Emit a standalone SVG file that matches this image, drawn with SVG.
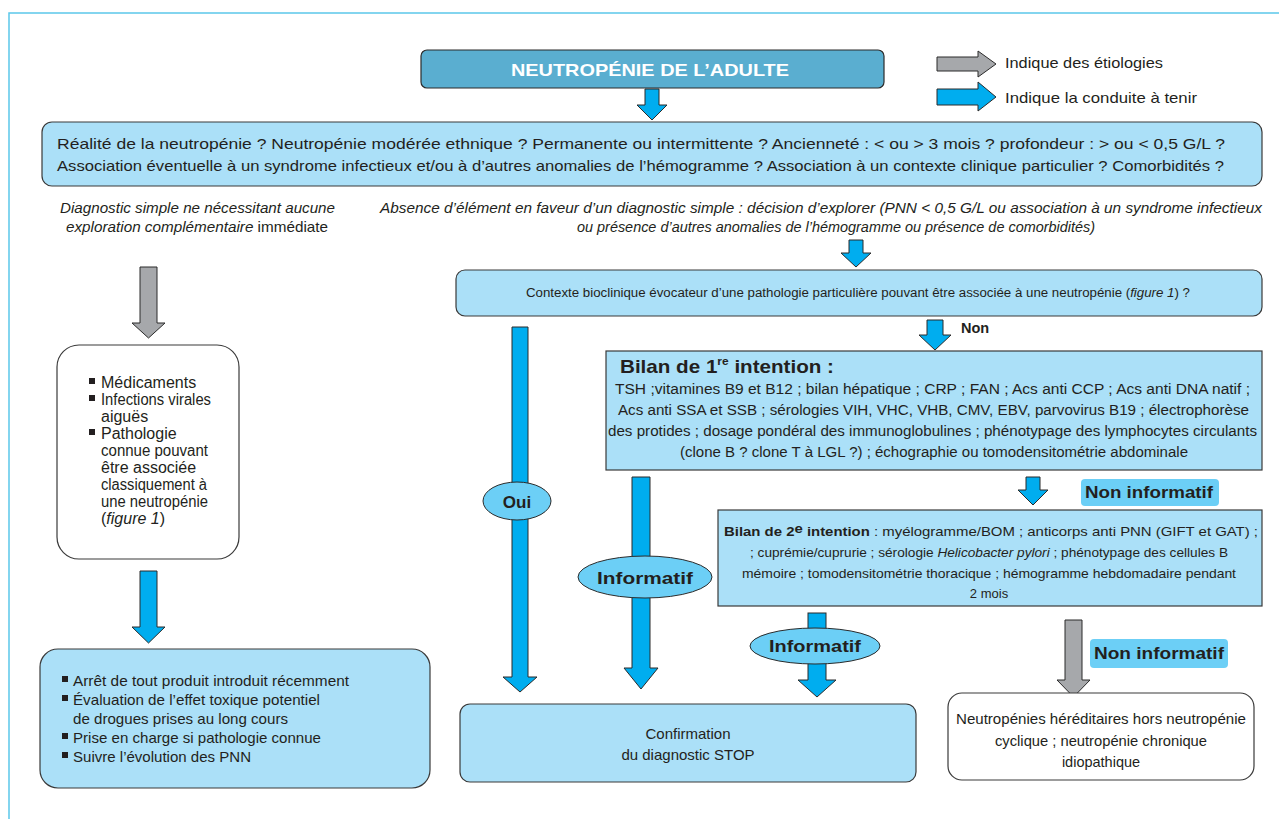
<svg xmlns="http://www.w3.org/2000/svg" width="1279" height="819" viewBox="0 0 1279 819">
<style>
.t{font-family:"Liberation Sans",Arial,sans-serif;fill:#231f20}
.b{font-weight:bold}
.i{font-style:italic}
.box{fill:#abe0f8;stroke:#3a3a3a;stroke-width:1.2}
.wbox{fill:#ffffff;stroke:#3a3a3a;stroke-width:1.2}
.ab{fill:#00adef;stroke:#2b2b2b;stroke-width:1}
.ag{fill:#a6a8ab;stroke:#2b2b2b;stroke-width:1}
.ell{fill:#6ccff6;stroke:#2b2b2b;stroke-width:1}
.lab{fill:#6ccff6}
</style>
<rect width="1279" height="819" fill="#ffffff"/>
<path d="M9,819 V13 H1279" fill="none" stroke="#5bc8ea" stroke-width="1.5"/>

<g id="connectors">
  <polygon class="ab" points="645,89 659,89 659,105 667,105 652,120 637,105 645,105"/>
  <polygon class="ab" points="849,240 863,240 863,253 871,253 856,267 841,253 849,253"/>
  <polygon class="ab" points="927,320 943,320 943,335 951,335 935,350 919,335 927,335"/>
  <polygon class="ab" points="1026,477 1040,477 1040,490 1048,490 1033,505 1018,490 1026,490"/>
  <polygon class="ag" points="140,267 157,267 157,323 165,323 148.5,338 132,323 140,323"/>
  <polygon class="ab" points="140,571 157,571 157,627 165,627 148.5,643 132,627 140,627"/>
  <polygon class="ab" points="512,327 528,327 528,677 537,677 520,692 503,677 512,677"/>
  <polygon class="ab" points="632,477 650,477 650,668 658,668 641,689 624,668 632,668"/>
  <rect class="ab" x="808" y="613" width="18" height="17"/>
  <polygon class="ab" points="808,662 826,662 826,680 836,680 817,697 798,680 808,680"/>
  <polygon class="ag" points="1065,620 1082,620 1082,680 1090,680 1073.5,697 1057,680 1065,680"/>
</g>

<g id="legend">
  <polygon class="ag" points="937,57 978,57 978,51 996,64 978,77 978,71 937,71"/>
  <text class="t" x="1005" y="68" font-size="15" textLength="158" lengthAdjust="spacingAndGlyphs">Indique des étiologies</text>
  <polygon class="ab" points="937,89 978,89 978,82 996,97 978,111 978,105 937,105"/>
  <text class="t" x="1005" y="103" font-size="15" textLength="192" lengthAdjust="spacingAndGlyphs">Indique la conduite à tenir</text>
</g>

<g id="title">
  <rect x="421" y="50" width="463" height="38" rx="6" fill="#5aaed0" stroke="#2b2b2b" stroke-width="1.2"/>
  <text class="t b" x="650" y="76" font-size="17" style="fill:#ffffff" text-anchor="middle" textLength="278" lengthAdjust="spacingAndGlyphs">NEUTROPÉNIE DE L’ADULTE</text>
</g>

<g id="questions">
  <rect class="box" x="42" y="122" width="1220" height="64" rx="10"/>
  <text class="t" x="57" y="149" font-size="15" textLength="1168" lengthAdjust="spacingAndGlyphs">Réalité de la neutropénie ? Neutropénie modérée  ethnique ?  Permanente ou intermittente ?  Ancienneté  :  &lt; ou &gt; 3 mois ?  profondeur  :  &gt; ou &lt; 0,5 G/L ?</text>
  <text class="t" x="57" y="171" font-size="15" textLength="1167" lengthAdjust="spacingAndGlyphs">Association éventuelle à un syndrome infectieux et/ou à d’autres anomalies de l’hémogramme ?  Association à un contexte clinique particulier ?  Comorbidités ?</text>
</g>

<g id="simple-label">
  <text class="t i" x="60" y="213" font-size="14.5" textLength="275" lengthAdjust="spacingAndGlyphs">Diagnostic simple ne nécessitant aucune</text>
  <text class="t" x="66" y="232" font-size="14.5" textLength="262" lengthAdjust="spacingAndGlyphs"><tspan class="i">exploration complémentaire</tspan> immédiate</text>
</g>

<g id="explore-label">
  <text class="t i" x="380" y="213" font-size="14.5" textLength="882" lengthAdjust="spacingAndGlyphs">Absence d’élément en faveur d’un diagnostic simple : décision d’explorer (PNN &lt; 0,5 G/L ou association à un syndrome infectieux</text>
  <text class="t i" x="577" y="232" font-size="14.5" textLength="518" lengthAdjust="spacingAndGlyphs">ou présence d’autres anomalies de l’hémogramme ou présence de comorbidités)</text>
</g>

<g id="etiologies">
  <rect class="wbox" x="57" y="345" width="182" height="214" rx="22"/>
  <g font-size="16">
    <rect x="89" y="378" width="6" height="6" fill="#231f20"/>
    <text class="t" x="101" y="388">Médicaments</text>
    <rect x="89" y="395" width="6" height="6" fill="#231f20"/>
    <text class="t" x="101" y="405" textLength="110" lengthAdjust="spacingAndGlyphs">Infections virales</text>
    <text class="t" x="101" y="422">aiguës</text>
    <rect x="89" y="429" width="6" height="6" fill="#231f20"/>
    <text class="t" x="101" y="439">Pathologie</text>
    <text class="t" x="101" y="456" textLength="107" lengthAdjust="spacingAndGlyphs">connue pouvant</text>
    <text class="t" x="101" y="473">être associée</text>
    <text class="t" x="101" y="490" textLength="106" lengthAdjust="spacingAndGlyphs">classiquement à</text>
    <text class="t" x="101" y="507" textLength="107" lengthAdjust="spacingAndGlyphs">une neutropénie</text>
    <text class="t" x="101" y="524">(<tspan class="i">figure 1</tspan>)</text>
  </g>
</g>

<g id="conduct">
  <rect class="box" x="40" y="649" width="390" height="139" rx="18"/>
  <g font-size="15">
    <rect x="62" y="676" width="6" height="6" fill="#231f20"/>
    <text class="t" x="73" y="686" textLength="276" lengthAdjust="spacingAndGlyphs">Arrêt de tout produit introduit récemment</text>
    <rect x="62" y="695" width="6" height="6" fill="#231f20"/>
    <text class="t" x="73" y="705" textLength="247" lengthAdjust="spacingAndGlyphs">Évaluation de l’effet toxique potentiel</text>
    <text class="t" x="73" y="724" textLength="215" lengthAdjust="spacingAndGlyphs">de drogues prises au long cours</text>
    <rect x="62" y="733" width="6" height="6" fill="#231f20"/>
    <text class="t" x="73" y="743" textLength="248" lengthAdjust="spacingAndGlyphs">Prise en charge si pathologie connue</text>
    <rect x="62" y="752" width="6" height="6" fill="#231f20"/>
    <text class="t" x="73" y="762" textLength="178" lengthAdjust="spacingAndGlyphs">Suivre l’évolution des PNN</text>
  </g>
</g>

<g id="contexte">
  <rect class="box" x="456" y="270" width="806" height="46" rx="9"/>
  <text class="t" x="526" y="297" font-size="12" textLength="664" lengthAdjust="spacingAndGlyphs">Contexte bioclinique évocateur d’une pathologie particulière pouvant être associée à une neutropénie (<tspan class="i">figure 1</tspan>) ?</text>
</g>

<g id="non-label">
  <text class="t b" x="961" y="333" font-size="14.5">Non</text>
</g>

<g id="bilan1">
  <rect class="box" x="606" y="351" width="656" height="119"/>
  <text class="t b" x="620" y="373" font-size="19" textLength="214" lengthAdjust="spacingAndGlyphs">Bilan de 1<tspan font-size="11" dy="-8">re</tspan><tspan dy="8"> intention :</tspan></text>
  <g font-size="14">
    <text class="t" x="615" y="394" textLength="635" lengthAdjust="spacingAndGlyphs">TSH ;vitamines B9 et B12  ; bilan hépatique ; CRP ; FAN ; Acs anti CCP ; Acs anti DNA natif ;</text>
    <text class="t" x="618" y="415" textLength="631" lengthAdjust="spacingAndGlyphs">Acs anti SSA et SSB ; sérologies VIH, VHC, VHB, CMV, EBV, parvovirus B19 ; électrophorèse</text>
    <text class="t" x="608" y="436" textLength="649" lengthAdjust="spacingAndGlyphs">des protides ; dosage pondéral des immunoglobulines ; phénotypage des lymphocytes circulants</text>
    <text class="t" x="680" y="457" textLength="508" lengthAdjust="spacingAndGlyphs">(clone B ? clone T à LGL ?) ; échographie ou tomodensitométrie abdominale</text>
  </g>
</g>

<g id="non-informatif-1">
  <rect class="lab" x="1081" y="479" width="138" height="27" rx="4"/>
  <text class="t b" x="1085" y="498" font-size="16" textLength="128" lengthAdjust="spacingAndGlyphs">Non informatif</text>
</g>

<g id="bilan2">
  <rect class="box" x="718" y="510" width="544" height="96"/>
  <text class="t" x="724" y="536" font-size="13" textLength="534" lengthAdjust="spacingAndGlyphs"><tspan class="b">Bilan de 2<tspan dy="-3">e</tspan></tspan><tspan class="b" dy="3">  intention</tspan> : myélogramme/BOM ; anticorps anti PNN (GIFT et GAT) ;</text>
  <text class="t" x="750" y="557" font-size="13" textLength="478" lengthAdjust="spacingAndGlyphs">; cuprémie/cuprurie ; sérologie <tspan class="i">Helicobacter pylori</tspan> ; phénotypage des cellules B</text>
  <text class="t" x="742" y="578" font-size="13" textLength="494" lengthAdjust="spacingAndGlyphs">mémoire ; tomodensitométrie thoracique ; hémogramme hebdomadaire pendant</text>
  <text class="t" x="989" y="598" font-size="13" text-anchor="middle">2 mois</text>
</g>

<g id="oui">
  <ellipse class="ell" cx="517" cy="501" rx="34" ry="19"/>
  <text class="t b" x="517" y="508" font-size="17" text-anchor="middle">Oui</text>
</g>

<g id="informatif-1">
  <ellipse class="ell" cx="645" cy="577" rx="67" ry="21"/>
  <text class="t b" x="645" y="584" font-size="17" text-anchor="middle" textLength="96" lengthAdjust="spacingAndGlyphs">Informatif</text>
</g>

<g id="informatif-2">
  <ellipse class="ell" cx="815" cy="646" rx="65" ry="18"/>
  <text class="t b" x="815" y="652" font-size="17" text-anchor="middle" textLength="92" lengthAdjust="spacingAndGlyphs">Informatif</text>
</g>

<g id="non-informatif-2">
  <rect class="lab" x="1090" y="639" width="138" height="29" rx="4"/>
  <text class="t b" x="1094" y="659" font-size="16" textLength="130" lengthAdjust="spacingAndGlyphs">Non informatif</text>
</g>

<g id="confirmation">
  <rect class="box" x="460" y="704" width="456" height="78" rx="10"/>
  <text class="t" x="688" y="739" font-size="15" text-anchor="middle">Confirmation</text>
  <text class="t" x="688" y="760" font-size="15" text-anchor="middle">du diagnostic STOP</text>
</g>

<g id="hereditaires">
  <rect class="wbox" x="948" y="693" width="306" height="87" rx="14"/>
  <text class="t" x="1101" y="724" font-size="14.5" text-anchor="middle" textLength="290" lengthAdjust="spacingAndGlyphs">Neutropénies héréditaires hors neutropénie</text>
  <text class="t" x="1101" y="746" font-size="14.5" text-anchor="middle" textLength="212" lengthAdjust="spacingAndGlyphs">cyclique ; neutropénie chronique</text>
  <text class="t" x="1101" y="767" font-size="14.5" text-anchor="middle">idiopathique</text>
</g>
</svg>
